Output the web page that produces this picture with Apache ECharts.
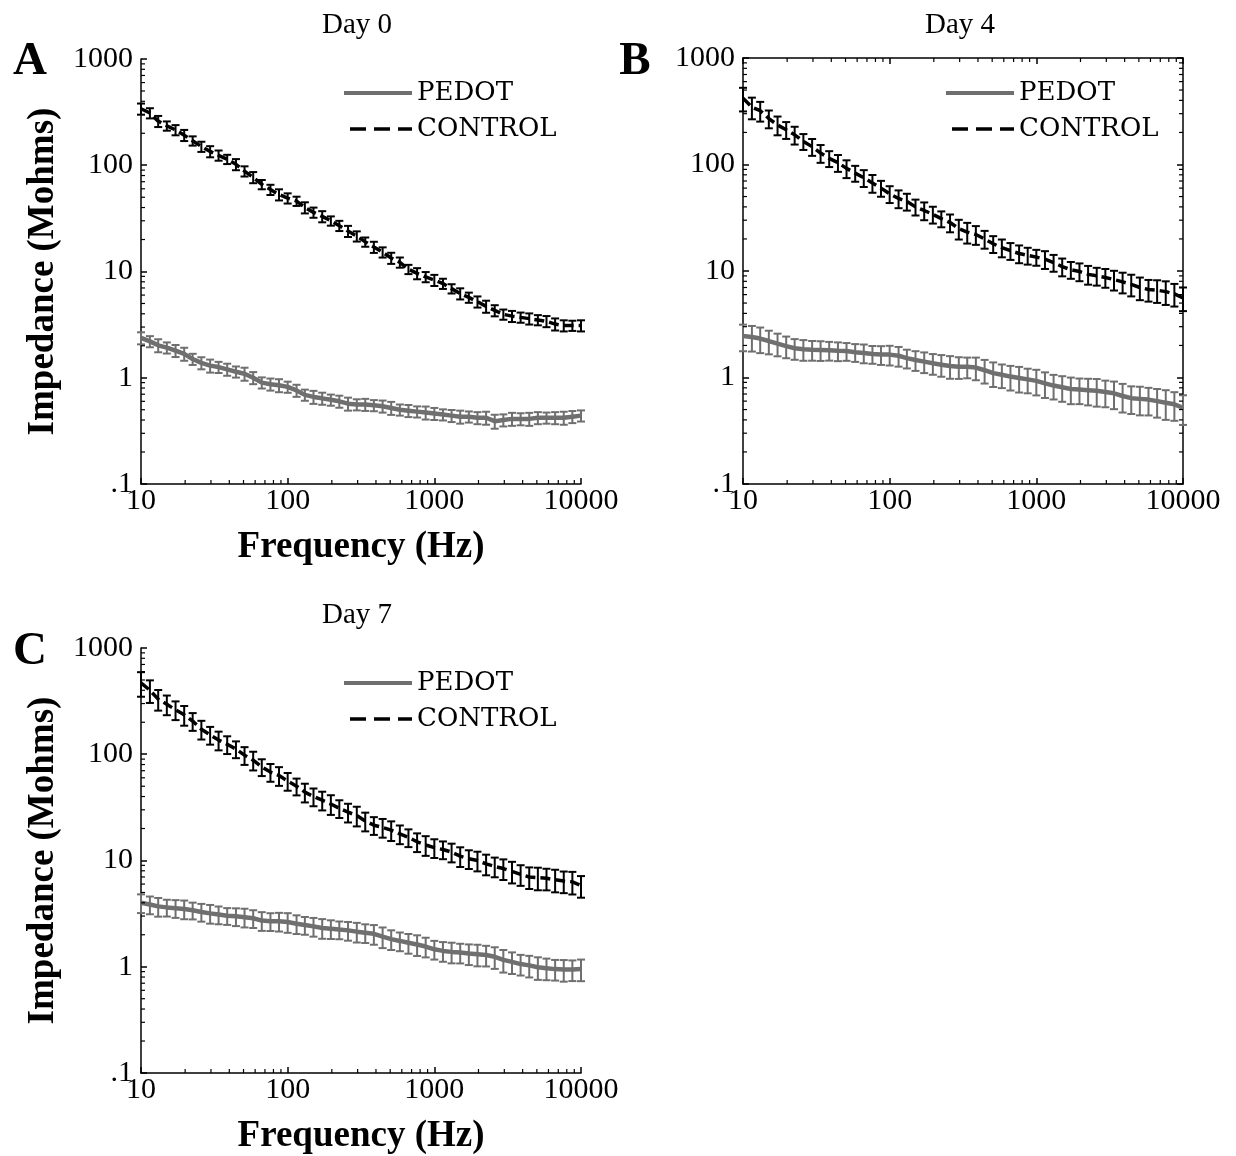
<!DOCTYPE html>
<html>
<head>
<meta charset="utf-8">
<script src="https://cdn.jsdelivr.net/npm/echarts@6/dist/echarts.min.js"></script>
<style>
html,body{margin:0;padding:0;background:#ffffff;}
#chart{width:1236px;height:1156px;}
</style>
</head>
<body>
<div id="chart"></div>
<script>
// ---------------- DATA ----------------
const freq = [10, 11.5, 13.1, 15.0, 17.2, 19.7, 22.5, 25.8, 29.6, 33.8,
  38.7, 44.4, 50.8, 58.2, 66.6, 76.3, 87.3, 100, 115, 131,
  150, 172, 197, 225, 258, 296, 338, 387, 444, 508,
  582, 666, 763, 873, 1000, 1145, 1311, 1501, 1719, 1968,
  2254, 2581, 2955, 3384, 3875, 4437, 5080, 5817, 6661, 7627,
  8733, 10000];

// Day 0 (panel A)
const pedotDay0 = [2.37, 2.20, 2.02, 1.92, 1.80, 1.68, 1.50, 1.38, 1.30, 1.26,
  1.20, 1.14, 1.09, 1.00, 0.90, 0.87, 0.85, 0.82, 0.76, 0.69,
  0.66, 0.64, 0.62, 0.60, 0.57, 0.56, 0.56, 0.55, 0.54, 0.52,
  0.50, 0.49, 0.48, 0.47, 0.46, 0.45, 0.44, 0.43, 0.43, 0.42,
  0.42, 0.39, 0.40, 0.41, 0.41, 0.41, 0.42, 0.42, 0.42, 0.42,
  0.43, 0.44];
const controlDay0 = [340, 310, 260, 235, 215, 192, 170, 150, 135, 124,
  114, 102, 88, 77, 66, 59, 53, 49, 46, 40,
  36, 33, 30, 27, 24, 21.5, 19, 17, 15.2, 13.4,
  12.2, 10.5, 9.6, 8.9, 8.3, 7.7, 6.9, 6.2, 5.7, 5.2,
  4.7, 4.3, 3.95, 3.8, 3.7, 3.6, 3.5, 3.4, 3.2, 3.1,
  3.1, 3.1];
// error bars, percent of value
const pedotErrDay0 = [13, 12, 14, 12, 13, 14, 12, 13, 14, 12,
  13, 12, 14, 13, 12, 13, 14, 12, 13, 12,
  14, 13, 12, 13, 14, 12, 13, 12, 13, 14,
  12, 13, 12, 14, 13, 12, 13, 14, 12, 13,
  14, 15, 13, 14, 13, 14, 13, 12, 13, 14,
  13, 12];
const controlErrDay0 = [12, 11, 12, 10, 11, 12, 10, 11, 12, 11,
  10, 12, 11, 12, 10, 11, 12, 11, 10, 12,
  11, 12, 10, 11, 12, 11, 10, 12, 11, 12,
  11, 10, 12, 11, 12, 11, 10, 12, 11, 12,
  13, 12, 11, 12, 11, 12, 11, 12, 13, 12,
  11, 12];

// Day 4 (panel B)
const pedotDay4 = [2.45, 2.40, 2.32, 2.20, 2.08, 1.97, 1.88, 1.84, 1.82, 1.81,
  1.80, 1.78, 1.77, 1.73, 1.70, 1.66, 1.64, 1.64, 1.60, 1.52,
  1.46, 1.41, 1.36, 1.32, 1.28, 1.26, 1.26, 1.24, 1.17, 1.10,
  1.06, 1.02, 0.99, 0.96, 0.93, 0.88, 0.84, 0.81, 0.78, 0.77,
  0.76, 0.75, 0.73, 0.71, 0.67, 0.64, 0.63, 0.62, 0.60, 0.58,
  0.56, 0.52];
const controlDay4 = [420, 345, 320, 270, 235, 212, 190, 165, 147, 128,
  114, 104, 92, 83, 75, 67, 60, 53, 48, 45,
  40, 37, 34, 31, 28.5, 25, 23.2, 22, 20, 18,
  16.6, 15.5, 14.6, 14, 13.5, 12.9, 12, 11, 10.3, 9.9,
  9.3, 9.0, 8.7, 8.3, 7.9, 7.5, 7.0, 6.7, 6.6, 6.4,
  6.1, 5.6];
const pedotErrDay4 = [28, 27, 27, 25, 24, 23, 22, 22, 21, 21,
  20, 20, 19, 19, 20, 19, 20, 21, 21, 20,
  21, 22, 22, 23, 24, 23, 22, 24, 25, 26,
  25, 26, 27, 26, 27, 27, 26, 27, 28, 27,
  28, 29, 28, 29, 30, 29, 30, 29, 30, 31,
  30, 31];
const controlErrDay4 = [25, 23, 21, 19, 20, 18, 19, 17, 18, 19,
  17, 18, 19, 17, 18, 19, 17, 18, 19, 18,
  17, 19, 18, 17, 19, 21, 22, 20, 19, 18,
  19, 18, 19, 18, 17, 19, 18, 19, 18, 19,
  20, 19, 20, 21, 22, 23, 24, 23, 24, 25,
  24, 25];

// Day 7 (panel C)
const pedotDay7 = [4.0, 3.85, 3.70, 3.62, 3.56, 3.50, 3.40, 3.28, 3.18, 3.10,
  3.02, 2.98, 2.93, 2.86, 2.72, 2.68, 2.68, 2.64, 2.54, 2.47,
  2.40, 2.32, 2.28, 2.24, 2.20, 2.14, 2.09, 2.04, 1.92, 1.82,
  1.75, 1.68, 1.62, 1.55, 1.46, 1.41, 1.38, 1.36, 1.33, 1.31,
  1.29, 1.24, 1.16, 1.11, 1.06, 1.03, 0.99, 0.97, 0.95, 0.94,
  0.94, 0.95];
const controlDay7 = [470, 400, 330, 295, 262, 235, 205, 172, 152, 136,
  124, 112, 98, 88, 76, 68, 63, 56, 50, 44,
  40, 37, 34, 31, 28.5, 26.5, 23.5, 21.5, 20.5, 19.3,
  17.8, 16.5, 15, 14, 13.2, 12.7, 12.0, 11.0, 10.4, 10.0,
  9.3, 8.8, 8.4, 7.9, 7.4, 7.0, 6.9, 6.8, 6.6, 6.4,
  6.3, 5.8];
const pedotErrDay7 = [20, 19, 20, 18, 19, 20, 18, 19, 20, 19,
  18, 19, 20, 19, 20, 19, 20, 21, 20, 19,
  20, 21, 20, 19, 20, 21, 20, 21, 22, 21,
  20, 21, 22, 21, 20, 21, 22, 21, 22, 23,
  22, 23, 24, 23, 22, 23, 24, 23, 22, 23,
  22, 23];
const controlErrDay7 = [26, 24, 22, 21, 20, 21, 19, 20, 19, 20,
  19, 18, 19, 20, 18, 19, 20, 19, 18, 20,
  19, 20, 21, 19, 20, 21, 20, 19, 20, 21,
  20, 19, 20, 21, 20, 19, 20, 21, 20, 21,
  22, 21, 22, 23, 22, 23, 24, 23, 24, 23,
  24, 23];

const panelTitles = ['Day 0', 'Day 4', 'Day 7'];
const panelLetters = ['A', 'B', 'C'];
const seriesNames = ['PEDOT', 'CONTROL'];
const xAxisName = 'Frequency (Hz)';
const yAxisName = 'Impedance (Mohms)';
const yTickLabels = {'0.1': '.1', '1': '1', '10': '10', '100': '100', '1000': '1000'};
const minorMultipliers = [2, 3, 4, 5, 6, 7, 8, 9];
const yDecades = [0.1, 1, 10, 100];
const xDecades = [10, 100, 1000];

// ---------------- LAYOUT / STYLE ----------------
const SERIF = '"Liberation Serif", "Times New Roman", serif';
const LEGEND_FONT = '"DejaVu Serif", serif';
const GRAY = '#6f6f6f';
const BLACK = '#000000';

const panels = [
  {pedot: pedotDay0, control: controlDay0, pe: pedotErrDay0, ce: controlErrDay0,
   grid: {left: 141, top: 59, width: 440, height: 425}, box: false, named: true,
   legend: {left: 337, top: 75}, title: [357, 25], letter: [30, 62]},
  {pedot: pedotDay4, control: controlDay4, pe: pedotErrDay4, ce: controlErrDay4,
   grid: {left: 743, top: 58, width: 440, height: 426}, box: true, named: false,
   legend: {left: 939, top: 75}, title: [960, 25], letter: [635, 62]},
  {pedot: pedotDay7, control: controlDay7, pe: pedotErrDay7, ce: controlErrDay7,
   grid: {left: 141, top: 648, width: 440, height: 426}, box: false, named: true,
   legend: {left: 337, top: 665}, title: [357, 615], letter: [30, 652]}
];

const minorY = [];
yDecades.forEach(d => minorMultipliers.forEach(m => minorY.push(Number((d * m).toPrecision(4)))));
const minorX = [];
xDecades.forEach(d => minorMultipliers.forEach(m => minorX.push(d * m)));

function labelFmt(v) {
  const r = Number(Number(v).toPrecision(6));
  return yTickLabels[String(r)] !== undefined ? yTickLabels[String(r)] : String(r);
}

function errRenderer(color, lw) {
  return function (params, api) {
    const x = api.value(0);
    const a = api.coord([x, api.value(2)]);
    const b = api.coord([x, api.value(1)]);
    const c = 4;
    const st = {stroke: color, lineWidth: lw};
    return {type: 'group', children: [
      {type: 'line', shape: {x1: a[0], y1: a[1], x2: b[0], y2: b[1]}, style: st},
      {type: 'line', shape: {x1: a[0] - c, y1: a[1], x2: a[0] + c, y2: a[1]}, style: st},
      {type: 'line', shape: {x1: b[0] - c, y1: b[1], x2: b[0] + c, y2: b[1]}, style: st}
    ]};
  };
}

function minorRenderer(kind, box) {
  return function (params, api) {
    const len = 4;
    const st = {stroke: BLACK, lineWidth: 1.2};
    const kids = [];
    if (kind === 'y') {
      const v = api.value(1);
      const p = api.coord([10, v]);
      kids.push({type: 'line', shape: {x1: p[0], y1: p[1], x2: p[0] + len, y2: p[1]}, style: st});
      if (box) {
        const q = api.coord([10000, v]);
        kids.push({type: 'line', shape: {x1: q[0], y1: q[1], x2: q[0] - len, y2: q[1]}, style: st});
      }
    } else {
      const f = api.value(0);
      const p = api.coord([f, 0.1]);
      kids.push({type: 'line', shape: {x1: p[0], y1: p[1], x2: p[0], y2: p[1] - len}, style: st});
      if (box) {
        const q = api.coord([f, 1000]);
        kids.push({type: 'line', shape: {x1: q[0], y1: q[1], x2: q[0], y2: q[1] + len}, style: st});
      }
    }
    return {type: 'group', children: kids};
  };
}

const grids = [], xAxes = [], yAxes = [], series = [], legends = [], graphics = [];
const axisLineStyle = {color: BLACK, width: 1.5};

panels.forEach((p, i) => {
  grids.push(Object.assign({containLabel: false}, p.grid));
  xAxes.push({
    type: 'log', logBase: 10, min: 10, max: 10000, gridIndex: i, position: 'bottom',
    axisLine: {show: true, lineStyle: axisLineStyle},
    axisTick: {show: true, inside: true, length: 6, lineStyle: {color: BLACK, width: 1.5}},
    axisLabel: {show: true, formatter: labelFmt, fontFamily: SERIF, fontSize: 30, color: BLACK, margin: 2,
                showMinLabel: true, showMaxLabel: true},
    splitLine: {show: false},
    name: p.named ? xAxisName : '', nameLocation: 'middle', nameGap: 45,
    nameTextStyle: {fontFamily: SERIF, fontWeight: 'bold', fontSize: 37, color: BLACK}
  });
  yAxes.push({
    type: 'log', logBase: 10, min: 0.1, max: 1000, gridIndex: i, position: 'left',
    axisLine: {show: true, lineStyle: axisLineStyle},
    axisTick: {show: true, inside: true, length: 6, lineStyle: {color: BLACK, width: 1.5}},
    axisLabel: {show: true, formatter: labelFmt, fontFamily: SERIF, fontSize: 30, color: BLACK, margin: 8,
                showMinLabel: true, showMaxLabel: true},
    splitLine: {show: false},
    name: p.named ? yAxisName : '', nameLocation: 'middle', nameGap: 79,
    nameTextStyle: {fontFamily: SERIF, fontWeight: 'bold', fontSize: 37, color: BLACK}
  });

  const pedotLine = freq.map((f, j) => [f, p.pedot[j]]);
  const controlLine = freq.map((f, j) => [f, p.control[j]]);
  const pedotErr = freq.map((f, j) => [f, p.pedot[j] * (1 - p.pe[j] / 100), p.pedot[j] * (1 + p.pe[j] / 100)]);
  const controlErr = freq.map((f, j) => [f, p.control[j] * (1 - p.ce[j] / 100), p.control[j] * (1 + p.ce[j] / 100)]);

  series.push({
    type: 'custom', name: 'PEDOT error', xAxisIndex: i, yAxisIndex: i, silent: true, clip: false,
    renderItem: errRenderer(GRAY, 2), data: pedotErr, encode: {x: 0, y: [1, 2]}, z: 2
  });
  series.push({
    type: 'line', name: seriesNames[0], xAxisIndex: i, yAxisIndex: i, data: pedotLine,
    symbol: 'none', showSymbol: false, silent: true, z: 3,
    lineStyle: {color: GRAY, width: 4.5, type: 'solid'}, itemStyle: {color: GRAY}
  });
  series.push({
    type: 'custom', name: 'CONTROL error', xAxisIndex: i, yAxisIndex: i, silent: true, clip: false,
    renderItem: errRenderer(BLACK, 2), data: controlErr, encode: {x: 0, y: [1, 2]}, z: 4
  });
  series.push({
    type: 'line', name: seriesNames[1], xAxisIndex: i, yAxisIndex: i, data: controlLine,
    symbol: 'none', showSymbol: false, silent: true, z: 5,
    lineStyle: {color: BLACK, width: 3.5, type: [10, 5]}, itemStyle: {color: BLACK}
  });
  series.push({
    type: 'custom', name: 'minor y', xAxisIndex: i, yAxisIndex: i, silent: true, clip: false,
    renderItem: minorRenderer('y', p.box), data: minorY.map(v => [10, v]), encode: {x: 0, y: 1}, z: 6
  });
  series.push({
    type: 'custom', name: 'minor x', xAxisIndex: i, yAxisIndex: i, silent: true, clip: false,
    renderItem: minorRenderer('x', p.box), data: minorX.map(f => [f, 0.1]), encode: {x: 0, y: 1}, z: 6
  });

  legends.push({
    data: [
      {name: seriesNames[0], lineStyle: {width: 4, color: GRAY, type: 'solid'}},
      {name: seriesNames[1], lineStyle: {width: 3.5, color: BLACK, type: [16, 8], dashOffset: 18}}
    ],
    orient: 'vertical', left: p.legend.left, top: p.legend.top,
    itemWidth: 68, itemHeight: 4, itemGap: 10, selectedMode: false,
    itemStyle: {opacity: 0},
    textStyle: {fontFamily: LEGEND_FONT, fontSize: 26, color: BLACK}
  });

  graphics.push({type: 'text', x: p.title[0], y: p.title[1],
    style: {text: panelTitles[i], fontFamily: SERIF, fontSize: 29, fill: BLACK, align: 'center', verticalAlign: 'middle'}});
  graphics.push({type: 'text', x: p.letter[0], y: p.letter[1],
    style: {text: panelLetters[i], fontFamily: SERIF, fontWeight: 'bold', fontSize: 47, fill: BLACK, align: 'center', verticalAlign: 'middle'}});
});

// box axes for panel B (top and right, no labels)
xAxes.push({
  type: 'log', logBase: 10, min: 10, max: 10000, gridIndex: 1, position: 'top',
  axisLine: {show: true, lineStyle: axisLineStyle},
  axisTick: {show: true, inside: true, length: 6, lineStyle: {color: BLACK, width: 1.5}},
  axisLabel: {show: false}, splitLine: {show: false}
});
yAxes.push({
  type: 'log', logBase: 10, min: 0.1, max: 1000, gridIndex: 1, position: 'right',
  axisLine: {show: true, lineStyle: axisLineStyle},
  axisTick: {show: true, inside: true, length: 6, lineStyle: {color: BLACK, width: 1.5}},
  axisLabel: {show: false}, splitLine: {show: false}
});

const chart = echarts.init(document.getElementById('chart'), null, {renderer: 'canvas'});
chart.setOption({
  backgroundColor: '#ffffff',
  animation: false,
  grid: grids,
  xAxis: xAxes,
  yAxis: yAxes,
  legend: legends,
  series: series,
  graphic: graphics
});
</script>
</body>
</html>
